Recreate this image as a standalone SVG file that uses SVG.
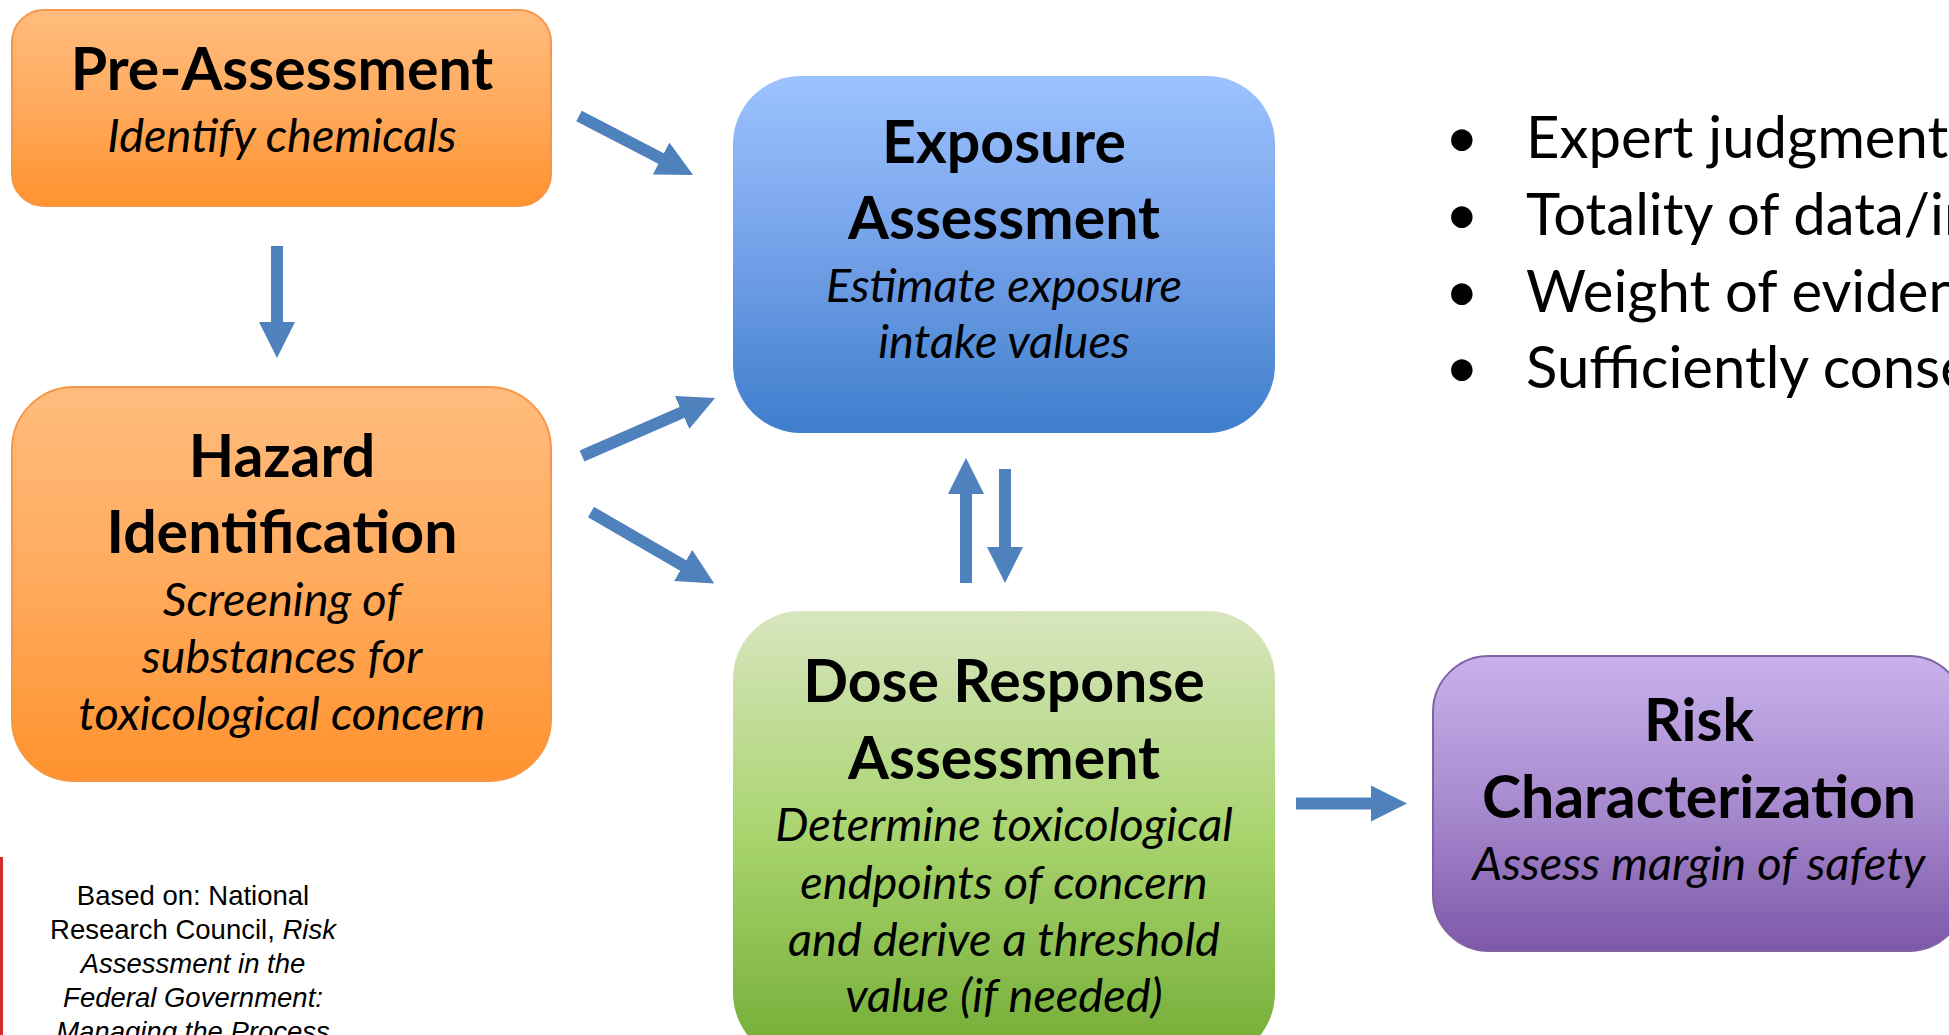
<svg xmlns="http://www.w3.org/2000/svg" width="1949" height="1035" viewBox="0 0 1949 1035">
  <style>
    .title { font-family: Lato, "Open Sans", "Liberation Sans", sans-serif; font-weight: 700; font-size: 59px; text-anchor: middle; fill: #000; }
    .sub { font-family: Lato, "Open Sans", "Liberation Sans", sans-serif; font-style: italic; font-size: 47px; text-anchor: middle; fill: #000; }
    .bullet { font-family: Lato, "Open Sans", "Liberation Sans", sans-serif; font-size: 58px; fill: #000; }
    .note { font-family: "Liberation Sans", Arial, sans-serif; font-size: 27.5px; text-anchor: middle; fill: #000; }
    .conn line { stroke: #4F81BD; stroke-width: 12; marker-end: url(#head); }
  </style>
  <defs>
    <linearGradient id="gOrange" x1="0" y1="0" x2="0" y2="1">
      <stop offset="0" stop-color="#FFBC7E"/>
      <stop offset="0.5" stop-color="#FFAA5C"/>
      <stop offset="1" stop-color="#FF922E"/>
    </linearGradient>
    <linearGradient id="gBlue" x1="0" y1="0" x2="0" y2="1">
      <stop offset="0" stop-color="#9DC3FF"/>
      <stop offset="0.5" stop-color="#73A0E8"/>
      <stop offset="1" stop-color="#3E7ECC"/>
    </linearGradient>
    <linearGradient id="gGreen" x1="0" y1="0" x2="0" y2="1">
      <stop offset="0" stop-color="#D8E5BF"/>
      <stop offset="0.5" stop-color="#A8D46E"/>
      <stop offset="1" stop-color="#72AC34"/>
    </linearGradient>
    <linearGradient id="gPurple" x1="0" y1="0" x2="0" y2="1">
      <stop offset="0" stop-color="#C8B1EC"/>
      <stop offset="0.5" stop-color="#A88BCF"/>
      <stop offset="1" stop-color="#7D58A8"/>
    </linearGradient>
    <marker id="head" markerUnits="userSpaceOnUse" markerWidth="36" markerHeight="36" viewBox="0 0 36 36" refX="1" refY="18" orient="auto">
      <path d="M0,0 L36,18 L0,36 Z" fill="#4F81BD"/>
    </marker>
  </defs>

  <rect width="1949" height="1035" fill="#FFFFFF"/>

  <!-- process boxes -->
  <g id="pre-assessment">
    <rect x="12" y="10" width="539" height="196" rx="32" fill="url(#gOrange)" stroke="#F79646" stroke-width="2"/>
    <text class="title" x="282" y="90">Pre-Assessment</text>
    <text class="sub" x="282" y="152">Identify chemicals</text>
  </g>

  <g id="hazard-identification">
    <rect x="12" y="387" width="539" height="394" rx="62" fill="url(#gOrange)" stroke="#F79646" stroke-width="2"/>
    <text class="title" x="282" y="477">Hazard</text>
    <text class="title" x="282" y="553">Identification</text>
    <text class="sub" x="282" y="616">Screening of</text>
    <text class="sub" x="282" y="673">substances for</text>
    <text class="sub" x="282" y="730">toxicological concern</text>
  </g>

  <g id="exposure-assessment">
    <rect x="733" y="76" width="542" height="357" rx="68" fill="url(#gBlue)"/>
    <text class="title" x="1004" y="163">Exposure</text>
    <text class="title" x="1004" y="239">Assessment</text>
    <text class="sub" x="1004" y="302">Estimate exposure</text>
    <text class="sub" x="1004" y="358">intake values</text>
  </g>

  <g id="dose-response-assessment">
    <rect x="733" y="611" width="542" height="450" rx="68" fill="url(#gGreen)"/>
    <text class="title" x="1004" y="702">Dose Response</text>
    <text class="title" x="1004" y="779">Assessment</text>
    <text class="sub" x="1004" y="841">Determine toxicological</text>
    <text class="sub" x="1004" y="899">endpoints of concern</text>
    <text class="sub" x="1004" y="956">and derive a threshold</text>
    <text class="sub" x="1004" y="1012">value (if needed)</text>
  </g>

  <g id="risk-characterization">
    <rect x="1433" y="656" width="532" height="295" rx="56" fill="url(#gPurple)" stroke="#8064A2" stroke-width="2"/>
    <text class="title" x="1699" y="741">Risk</text>
    <text class="title" x="1699" y="818">Characterization</text>
    <text class="sub" x="1699" y="880">Assess margin of safety</text>
  </g>

  <!-- block arrows between the steps -->
  <g id="connectors" class="conn">
    <line x1="579" y1="116" x2="662" y2="159"/>
    <line x1="277" y1="246" x2="277" y2="323"/>
    <line x1="582" y1="456" x2="683" y2="412"/>
    <line x1="591" y1="512" x2="684" y2="566"/>
    <line x1="966" y1="583" x2="966" y2="493"/>
    <line x1="1005" y1="469" x2="1005" y2="548"/>
    <line x1="1296" y1="803.5" x2="1372" y2="803.5"/>
  </g>

  <!-- key considerations list -->
  <g id="considerations" class="bullet">
    <text x="1445" y="158">•</text><text x="1526" y="158">Expert judgment</text>
    <text x="1445" y="235">•</text><text x="1526" y="235">Totality of data/in</text>
    <text x="1445" y="312">•</text><text x="1526" y="312">Weight of eviden</text>
    <text x="1445" y="388">•</text><text x="1526" y="388">Sufficiently conse</text>
  </g>

  <!-- source note -->
  <g id="source-note">
    <rect x="0" y="857" width="3" height="178" fill="#D52B2B"/>
    <text class="note" x="193" y="905">Based on: National</text>
    <text class="note" x="193" y="939">Research Council, <tspan font-style="italic">Risk</tspan></text>
    <text class="note" x="193" y="973" font-style="italic">Assessment in the</text>
    <text class="note" x="193" y="1007" font-style="italic">Federal Government:</text>
    <text class="note" x="193" y="1041" font-style="italic">Managing the Process</text>
  </g>
</svg>
